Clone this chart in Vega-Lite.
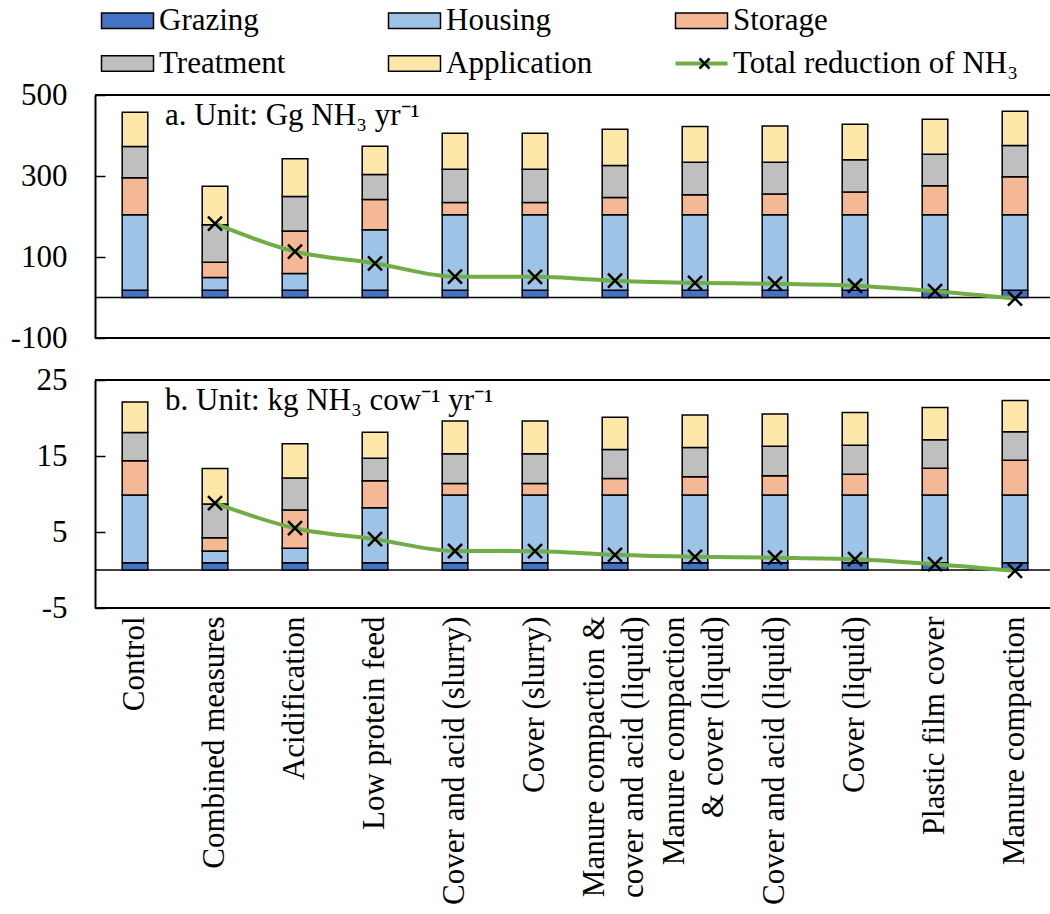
{
  "$schema": "https://vega.github.io/schema/vega-lite/v6.json",
  "padding": {"left": 10, "top": 5, "right": 0, "bottom": 0},
  "background": "white",
  "spacing": 11,
  "config": {"view": {"stroke": null}, "font": "Liberation Serif"},
  "datasets": {
    "bars": [
      {"p":"a","s":"Control","c":"Grazing","o":1,"v":18},
      {"p":"a","s":"Control","c":"Housing","o":2,"v":186.4},
      {"p":"a","s":"Control","c":"Storage","o":3,"v":91.2},
      {"p":"a","s":"Control","c":"Treatment","o":4,"v":77.1},
      {"p":"a","s":"Control","c":"Application","o":5,"v":84.6},
      {"p":"a","s":"Combined measures","c":"Grazing","o":1,"v":18},
      {"p":"a","s":"Combined measures","c":"Housing","o":2,"v":31.3},
      {"p":"a","s":"Combined measures","c":"Storage","o":3,"v":37.7},
      {"p":"a","s":"Combined measures","c":"Treatment","o":4,"v":92.8},
      {"p":"a","s":"Combined measures","c":"Application","o":5,"v":95.2},
      {"p":"a","s":"Acidification","c":"Grazing","o":1,"v":18},
      {"p":"a","s":"Acidification","c":"Housing","o":2,"v":41.1},
      {"p":"a","s":"Acidification","c":"Storage","o":3,"v":105.1},
      {"p":"a","s":"Acidification","c":"Treatment","o":4,"v":85.4},
      {"p":"a","s":"Acidification","c":"Application","o":5,"v":92.8},
      {"p":"a","s":"Low protein feed","c":"Grazing","o":1,"v":18},
      {"p":"a","s":"Low protein feed","c":"Housing","o":2,"v":149.5},
      {"p":"a","s":"Low protein feed","c":"Storage","o":3,"v":74.7},
      {"p":"a","s":"Low protein feed","c":"Treatment","o":4,"v":61.6},
      {"p":"a","s":"Low protein feed","c":"Application","o":5,"v":69.8},
      {"p":"a","s":"Cover and acid (slurry)","c":"Grazing","o":1,"v":18},
      {"p":"a","s":"Cover and acid (slurry)","c":"Housing","o":2,"v":186.4},
      {"p":"a","s":"Cover and acid (slurry)","c":"Storage","o":3,"v":30.4},
      {"p":"a","s":"Cover and acid (slurry)","c":"Treatment","o":4,"v":82.1},
      {"p":"a","s":"Cover and acid (slurry)","c":"Application","o":5,"v":88.7},
      {"p":"a","s":"Cover (slurry)","c":"Grazing","o":1,"v":18},
      {"p":"a","s":"Cover (slurry)","c":"Housing","o":2,"v":186.4},
      {"p":"a","s":"Cover (slurry)","c":"Storage","o":3,"v":30.4},
      {"p":"a","s":"Cover (slurry)","c":"Treatment","o":4,"v":82.1},
      {"p":"a","s":"Cover (slurry)","c":"Application","o":5,"v":88.7},
      {"p":"a","s":"Manure compaction & cover and acid (liquid)","c":"Grazing","o":1,"v":18},
      {"p":"a","s":"Manure compaction & cover and acid (liquid)","c":"Housing","o":2,"v":186.4},
      {"p":"a","s":"Manure compaction & cover and acid (liquid)","c":"Storage","o":3,"v":42.7},
      {"p":"a","s":"Manure compaction & cover and acid (liquid)","c":"Treatment","o":4,"v":78.8},
      {"p":"a","s":"Manure compaction & cover and acid (liquid)","c":"Application","o":5,"v":89.5},
      {"p":"a","s":"Manure compaction & cover (liquid)","c":"Grazing","o":1,"v":18},
      {"p":"a","s":"Manure compaction & cover (liquid)","c":"Housing","o":2,"v":186.4},
      {"p":"a","s":"Manure compaction & cover (liquid)","c":"Storage","o":3,"v":49.3},
      {"p":"a","s":"Manure compaction & cover (liquid)","c":"Treatment","o":4,"v":80.5},
      {"p":"a","s":"Manure compaction & cover (liquid)","c":"Application","o":5,"v":87.8},
      {"p":"a","s":"Cover and acid (liquid)","c":"Grazing","o":1,"v":18},
      {"p":"a","s":"Cover and acid (liquid)","c":"Housing","o":2,"v":186.4},
      {"p":"a","s":"Cover and acid (liquid)","c":"Storage","o":3,"v":50.9},
      {"p":"a","s":"Cover and acid (liquid)","c":"Treatment","o":4,"v":78.9},
      {"p":"a","s":"Cover and acid (liquid)","c":"Application","o":5,"v":89.4},
      {"p":"a","s":"Cover (liquid)","c":"Grazing","o":1,"v":18},
      {"p":"a","s":"Cover (liquid)","c":"Housing","o":2,"v":186.4},
      {"p":"a","s":"Cover (liquid)","c":"Storage","o":3,"v":55.8},
      {"p":"a","s":"Cover (liquid)","c":"Treatment","o":4,"v":79.8},
      {"p":"a","s":"Cover (liquid)","c":"Application","o":5,"v":87.8},
      {"p":"a","s":"Plastic film cover","c":"Grazing","o":1,"v":18},
      {"p":"a","s":"Plastic film cover","c":"Housing","o":2,"v":186.4},
      {"p":"a","s":"Plastic film cover","c":"Storage","o":3,"v":71.5},
      {"p":"a","s":"Plastic film cover","c":"Treatment","o":4,"v":78.0},
      {"p":"a","s":"Plastic film cover","c":"Application","o":5,"v":86.2},
      {"p":"a","s":"Manure compaction","c":"Grazing","o":1,"v":18},
      {"p":"a","s":"Manure compaction","c":"Housing","o":2,"v":186.4},
      {"p":"a","s":"Manure compaction","c":"Storage","o":3,"v":93.6},
      {"p":"a","s":"Manure compaction","c":"Treatment","o":4,"v":77.2},
      {"p":"a","s":"Manure compaction","c":"Application","o":5,"v":84.6},
      {"p":"b","s":"Control","c":"Grazing","o":1,"v":0.96},
      {"p":"b","s":"Control","c":"Housing","o":2,"v":8.90},
      {"p":"b","s":"Control","c":"Storage","o":3,"v":4.51},
      {"p":"b","s":"Control","c":"Treatment","o":4,"v":3.72},
      {"p":"b","s":"Control","c":"Application","o":5,"v":4.03},
      {"p":"b","s":"Combined measures","c":"Grazing","o":1,"v":0.96},
      {"p":"b","s":"Combined measures","c":"Housing","o":2,"v":1.54},
      {"p":"b","s":"Combined measures","c":"Storage","o":3,"v":1.75},
      {"p":"b","s":"Combined measures","c":"Treatment","o":4,"v":4.42},
      {"p":"b","s":"Combined measures","c":"Application","o":5,"v":4.69},
      {"p":"b","s":"Acidification","c":"Grazing","o":1,"v":0.96},
      {"p":"b","s":"Acidification","c":"Housing","o":2,"v":1.89},
      {"p":"b","s":"Acidification","c":"Storage","o":3,"v":5.03},
      {"p":"b","s":"Acidification","c":"Treatment","o":4,"v":4.21},
      {"p":"b","s":"Acidification","c":"Application","o":5,"v":4.51},
      {"p":"b","s":"Low protein feed","c":"Grazing","o":1,"v":0.96},
      {"p":"b","s":"Low protein feed","c":"Housing","o":2,"v":7.23},
      {"p":"b","s":"Low protein feed","c":"Storage","o":3,"v":3.55},
      {"p":"b","s":"Low protein feed","c":"Treatment","o":4,"v":2.98},
      {"p":"b","s":"Low protein feed","c":"Application","o":5,"v":3.41},
      {"p":"b","s":"Cover and acid (slurry)","c":"Grazing","o":1,"v":0.96},
      {"p":"b","s":"Cover and acid (slurry)","c":"Housing","o":2,"v":8.90},
      {"p":"b","s":"Cover and acid (slurry)","c":"Storage","o":3,"v":1.53},
      {"p":"b","s":"Cover and acid (slurry)","c":"Treatment","o":4,"v":3.90},
      {"p":"b","s":"Cover and acid (slurry)","c":"Application","o":5,"v":4.33},
      {"p":"b","s":"Cover (slurry)","c":"Grazing","o":1,"v":0.96},
      {"p":"b","s":"Cover (slurry)","c":"Housing","o":2,"v":8.90},
      {"p":"b","s":"Cover (slurry)","c":"Storage","o":3,"v":1.53},
      {"p":"b","s":"Cover (slurry)","c":"Treatment","o":4,"v":3.90},
      {"p":"b","s":"Cover (slurry)","c":"Application","o":5,"v":4.33},
      {"p":"b","s":"Manure compaction & cover and acid (liquid)","c":"Grazing","o":1,"v":0.96},
      {"p":"b","s":"Manure compaction & cover and acid (liquid)","c":"Housing","o":2,"v":8.90},
      {"p":"b","s":"Manure compaction & cover and acid (liquid)","c":"Storage","o":3,"v":2.19},
      {"p":"b","s":"Manure compaction & cover and acid (liquid)","c":"Treatment","o":4,"v":3.81},
      {"p":"b","s":"Manure compaction & cover and acid (liquid)","c":"Application","o":5,"v":4.25},
      {"p":"b","s":"Manure compaction & cover (liquid)","c":"Grazing","o":1,"v":0.96},
      {"p":"b","s":"Manure compaction & cover (liquid)","c":"Housing","o":2,"v":8.90},
      {"p":"b","s":"Manure compaction & cover (liquid)","c":"Storage","o":3,"v":2.40},
      {"p":"b","s":"Manure compaction & cover (liquid)","c":"Treatment","o":4,"v":3.86},
      {"p":"b","s":"Manure compaction & cover (liquid)","c":"Application","o":5,"v":4.29},
      {"p":"b","s":"Cover and acid (liquid)","c":"Grazing","o":1,"v":0.96},
      {"p":"b","s":"Cover and acid (liquid)","c":"Housing","o":2,"v":8.90},
      {"p":"b","s":"Cover and acid (liquid)","c":"Storage","o":3,"v":2.54},
      {"p":"b","s":"Cover and acid (liquid)","c":"Treatment","o":4,"v":3.89},
      {"p":"b","s":"Cover and acid (liquid)","c":"Application","o":5,"v":4.25},
      {"p":"b","s":"Cover (liquid)","c":"Grazing","o":1,"v":0.96},
      {"p":"b","s":"Cover (liquid)","c":"Housing","o":2,"v":8.90},
      {"p":"b","s":"Cover (liquid)","c":"Storage","o":3,"v":2.75},
      {"p":"b","s":"Cover (liquid)","c":"Treatment","o":4,"v":3.82},
      {"p":"b","s":"Cover (liquid)","c":"Application","o":5,"v":4.29},
      {"p":"b","s":"Plastic film cover","c":"Grazing","o":1,"v":0.96},
      {"p":"b","s":"Plastic film cover","c":"Housing","o":2,"v":8.90},
      {"p":"b","s":"Plastic film cover","c":"Storage","o":3,"v":3.54},
      {"p":"b","s":"Plastic film cover","c":"Treatment","o":4,"v":3.73},
      {"p":"b","s":"Plastic film cover","c":"Application","o":5,"v":4.25},
      {"p":"b","s":"Manure compaction","c":"Grazing","o":1,"v":0.96},
      {"p":"b","s":"Manure compaction","c":"Housing","o":2,"v":8.90},
      {"p":"b","s":"Manure compaction","c":"Storage","o":3,"v":4.59},
      {"p":"b","s":"Manure compaction","c":"Treatment","o":4,"v":3.73},
      {"p":"b","s":"Manure compaction","c":"Application","o":5,"v":4.12}
    ],
    "red": [
      {"p":"a","s":"Combined measures","r":182.3},
      {"p":"a","s":"Acidification","r":113.5},
      {"p":"a","s":"Low protein feed","r":84.5},
      {"p":"a","s":"Cover and acid (slurry)","r":51.5},
      {"p":"a","s":"Cover (slurry)","r":51.0},
      {"p":"a","s":"Manure compaction & cover and acid (liquid)","r":41.5},
      {"p":"a","s":"Manure compaction & cover (liquid)","r":36.0},
      {"p":"a","s":"Cover and acid (liquid)","r":34.0},
      {"p":"a","s":"Cover (liquid)","r":29.0},
      {"p":"a","s":"Plastic film cover","r":15.5},
      {"p":"a","s":"Manure compaction","r":-2.5},
      {"p":"b","s":"Combined measures","r":8.8},
      {"p":"b","s":"Acidification","r":5.5},
      {"p":"b","s":"Low protein feed","r":4.05},
      {"p":"b","s":"Cover and acid (slurry)","r":2.5},
      {"p":"b","s":"Cover (slurry)","r":2.48},
      {"p":"b","s":"Manure compaction & cover and acid (liquid)","r":2.0},
      {"p":"b","s":"Manure compaction & cover (liquid)","r":1.73},
      {"p":"b","s":"Cover and acid (liquid)","r":1.62},
      {"p":"b","s":"Cover (liquid)","r":1.42},
      {"p":"b","s":"Plastic film cover","r":0.77},
      {"p":"b","s":"Manure compaction","r":-0.1}
    ]
  },
  "vconcat": [
    {
      "width": 955,
      "height": 243,
      "layer": [
        {"data": {"values": [{}]}, "mark": {"type": "rule", "color": "black", "strokeWidth": 2}, "encoding": {"y": {"datum": 500, "type": "quantitative", "title": null}}},
        {"data": {"values": [{}]}, "mark": {"type": "rule", "color": "black", "strokeWidth": 2}, "encoding": {"y": {"datum": -100, "type": "quantitative", "title": null}}},
        {"data": {"values": [{}]}, "mark": {"type": "rule", "color": "black", "strokeWidth": 1.5}, "encoding": {"y": {"datum": 0, "type": "quantitative", "title": null}}},
        {
          "data": {"name": "bars"},
          "transform": [{"filter": "datum.p == 'a'"}],
          "mark": {"type": "bar", "stroke": "black", "strokeWidth": 1.5},
          "encoding": {
            "x": {"field": "s", "type": "nominal", "title": null, "scale": {"domain": ["Control","Combined measures","Acidification","Low protein feed","Cover and acid (slurry)","Cover (slurry)","Manure compaction & cover and acid (liquid)","Manure compaction & cover (liquid)","Cover and acid (liquid)","Cover (liquid)","Plastic film cover","Manure compaction"], "paddingInner": 0.68, "paddingOuter": 0.30875, "align": 0.5506}, "axis": null},
            "y": {"field": "v", "type": "quantitative", "stack": "zero", "title": null, "scale": {"domain": [-100, 500], "nice": false, "zero": false},
                  "axis": {"values": [-100, 100, 300, 500], "labelExpr": "datum.value < 0 ? '-' + abs(datum.value) : datum.label", "grid": false, "domain": true, "domainColor": "black", "domainWidth": 2, "ticks": true, "tickSize": -10, "tickColor": "black", "tickWidth": 1.5, "labelFont": "Liberation Serif", "labelFontSize": 31, "labelColor": "black", "labelPadding": 38, "title": null}},
            "fill": {"field": "c", "type": "nominal", "scale": {"domain": ["Grazing","Housing","Storage","Treatment","Application"], "range": ["#4472C4","#9DC3E6","#F4B994","#BFBFBF","#FCE7A8"]},
                     "legend": {"title": null, "orient": "none", "legendX": -4, "legendY": -90, "direction": "horizontal", "columns": 3, "gridAlign": "all", "columnPadding": 72, "rowPadding": 11, "padding": 0, "symbolType": "M-1,-1.56H9.4V1.56H-1Z", "symbolSize": 100, "symbolStrokeColor": "black", "symbolStrokeWidth": 1.5, "labelFont": "Liberation Serif", "labelFontSize": 31, "labelColor": "black", "labelOffset": 37, "labelLimit": 0}},
            "order": {"field": "o", "type": "quantitative"}
          }
        },
        {
          "data": {"name": "red"},
          "transform": [{"filter": "datum.p == 'a'"}],
          "mark": {"type": "line", "strokeWidth": 4, "interpolate": "monotone"},
          "encoding": {
            "x": {"field": "s", "type": "nominal", "title": null, "scale": {"domain": ["Control","Combined measures","Acidification","Low protein feed","Cover and acid (slurry)","Cover (slurry)","Manure compaction & cover and acid (liquid)","Manure compaction & cover (liquid)","Cover and acid (liquid)","Cover (liquid)","Plastic film cover","Manure compaction"], "paddingInner": 0.68, "paddingOuter": 0.30875, "align": 0.5506}, "axis": null},
            "y": {"field": "r", "type": "quantitative", "title": null},
            "stroke": {"datum": "Total reduction of NH₃", "scale": {"range": ["#70AD47"]},
                       "legend": {"title": null, "orient": "none", "legendX": 570, "legendY": -47, "padding": 0, "symbolType": "M-1,0H9.4", "symbolSize": 100, "symbolStrokeWidth": 4, "labelFont": "Liberation Serif", "labelFontSize": 31, "labelColor": "black", "labelOffset": 37, "labelLimit": 0}}
          }
        },
        {
          "data": {"name": "red"},
          "transform": [{"filter": "datum.p == 'a'"}],
          "mark": {"type": "point", "filled": false, "stroke": "black", "strokeWidth": 2.5, "size": 196, "opacity": 1},
          "encoding": {
            "x": {"field": "s", "type": "nominal", "title": null, "scale": {"domain": ["Control","Combined measures","Acidification","Low protein feed","Cover and acid (slurry)","Cover (slurry)","Manure compaction & cover and acid (liquid)","Manure compaction & cover (liquid)","Cover and acid (liquid)","Cover (liquid)","Plastic film cover","Manure compaction"], "paddingInner": 0.68, "paddingOuter": 0.30875, "align": 0.5506}, "axis": null},
            "y": {"field": "r", "type": "quantitative", "title": null},
            "shape": {"datum": "x", "scale": {"range": ["M-1,-1L1,1M-1,1L1,-1"]},
                      "legend": {"title": null, "orient": "none", "legendX": 594, "legendY": -47, "padding": 0, "symbolType": "M2.8,-1.4L5.6,1.4M2.8,1.4L5.6,-1.4", "symbolSize": 100, "symbolStrokeColor": "black", "symbolStrokeWidth": 2.5, "symbolFillColor": "transparent", "labelExpr": "''", "labelFontSize": 31}}
          }
        },
        {"data": {"values": [{}]}, "mark": {"type": "text", "align": "left", "baseline": "alphabetic", "dx": 30, "font": "Liberation Serif", "fontSize": 31, "color": "black", "text": "a. Unit: Gg NH₃ yr⁻¹"},
         "encoding": {"x": {"datum": "Control", "type": "nominal"}, "y": {"datum": 426, "type": "quantitative"}}}
      ]
    },
    {
      "width": 955,
      "height": 228,
      "layer": [
        {"data": {"values": [{}]}, "mark": {"type": "rule", "color": "black", "strokeWidth": 2}, "encoding": {"y": {"datum": 25, "type": "quantitative", "title": null}}},
        {"data": {"values": [{}]}, "mark": {"type": "rule", "color": "black", "strokeWidth": 2}, "encoding": {"y": {"datum": -5, "type": "quantitative", "title": null}}},
        {"data": {"values": [{}]}, "mark": {"type": "rule", "color": "black", "strokeWidth": 1.5}, "encoding": {"y": {"datum": 0, "type": "quantitative", "title": null}}},
        {
          "data": {"name": "bars"},
          "transform": [{"filter": "datum.p == 'b'"}],
          "mark": {"type": "bar", "stroke": "black", "strokeWidth": 1.5},
          "encoding": {
            "x": {"field": "s", "type": "nominal", "title": null, "scale": {"domain": ["Control","Combined measures","Acidification","Low protein feed","Cover and acid (slurry)","Cover (slurry)","Manure compaction & cover and acid (liquid)","Manure compaction & cover (liquid)","Cover and acid (liquid)","Cover (liquid)","Plastic film cover","Manure compaction"], "paddingInner": 0.68, "paddingOuter": 0.30875, "align": 0.5506},
                  "axis": {"title": null, "orient": "bottom", "domain": false, "ticks": false, "labelAngle": -90, "labelFont": "Liberation Serif", "labelFontSize": 31, "labelColor": "black", "labelPadding": 8, "labelLimit": 0, "labelOverlap": false, "labelLineHeight": 39, "labelOffset": {"condition": {"test": "indexof(datum.value, '&') >= 0", "value": -20}, "value": 0}, "labelExpr": "datum.value == 'Manure compaction & cover and acid (liquid)' ? ['Manure compaction &', 'cover and acid (liquid)'] : datum.value == 'Manure compaction & cover (liquid)' ? ['Manure compaction', '& cover (liquid)'] : datum.label"}},
            "y": {"field": "v", "type": "quantitative", "stack": "zero", "title": null, "scale": {"domain": [-5, 25], "nice": false, "zero": false},
                  "axis": {"values": [-5, 5, 15, 25], "labelExpr": "datum.value < 0 ? '-' + abs(datum.value) : datum.label", "grid": false, "domain": true, "domainColor": "black", "domainWidth": 2, "ticks": true, "tickSize": -10, "tickColor": "black", "tickWidth": 1.5, "labelFont": "Liberation Serif", "labelFontSize": 31, "labelColor": "black", "labelPadding": 38, "title": null}},
            "fill": {"field": "c", "type": "nominal", "scale": {"domain": ["Grazing","Housing","Storage","Treatment","Application"], "range": ["#4472C4","#9DC3E6","#F4B994","#BFBFBF","#FCE7A8"]}},
            "order": {"field": "o", "type": "quantitative"}
          }
        },
        {
          "data": {"name": "red"},
          "transform": [{"filter": "datum.p == 'b'"}],
          "mark": {"type": "line", "strokeWidth": 4, "interpolate": "monotone"},
          "encoding": {
            "x": {"field": "s", "type": "nominal", "title": null, "scale": {"domain": ["Control","Combined measures","Acidification","Low protein feed","Cover and acid (slurry)","Cover (slurry)","Manure compaction & cover and acid (liquid)","Manure compaction & cover (liquid)","Cover and acid (liquid)","Cover (liquid)","Plastic film cover","Manure compaction"], "paddingInner": 0.68, "paddingOuter": 0.30875, "align": 0.5506},
                  "axis": {"title": null, "orient": "bottom", "domain": false, "ticks": false, "labelAngle": -90, "labelFont": "Liberation Serif", "labelFontSize": 31, "labelColor": "black", "labelPadding": 8, "labelLimit": 0, "labelOverlap": false, "labelLineHeight": 39, "labelOffset": {"condition": {"test": "indexof(datum.value, '&') >= 0", "value": -20}, "value": 0}, "labelExpr": "datum.value == 'Manure compaction & cover and acid (liquid)' ? ['Manure compaction &', 'cover and acid (liquid)'] : datum.value == 'Manure compaction & cover (liquid)' ? ['Manure compaction', '& cover (liquid)'] : datum.label"}},
            "y": {"field": "r", "type": "quantitative", "title": null},
            "stroke": {"datum": "Total reduction of NH₃", "scale": {"range": ["#70AD47"]}}
          }
        },
        {
          "data": {"name": "red"},
          "transform": [{"filter": "datum.p == 'b'"}],
          "mark": {"type": "point", "filled": false, "stroke": "black", "strokeWidth": 2.5, "size": 196, "opacity": 1},
          "encoding": {
            "x": {"field": "s", "type": "nominal", "title": null, "scale": {"domain": ["Control","Combined measures","Acidification","Low protein feed","Cover and acid (slurry)","Cover (slurry)","Manure compaction & cover and acid (liquid)","Manure compaction & cover (liquid)","Cover and acid (liquid)","Cover (liquid)","Plastic film cover","Manure compaction"], "paddingInner": 0.68, "paddingOuter": 0.30875, "align": 0.5506},
                  "axis": {"title": null, "orient": "bottom", "domain": false, "ticks": false, "labelAngle": -90, "labelFont": "Liberation Serif", "labelFontSize": 31, "labelColor": "black", "labelPadding": 8, "labelLimit": 0, "labelOverlap": false, "labelLineHeight": 39, "labelOffset": {"condition": {"test": "indexof(datum.value, '&') >= 0", "value": -20}, "value": 0}, "labelExpr": "datum.value == 'Manure compaction & cover and acid (liquid)' ? ['Manure compaction &', 'cover and acid (liquid)'] : datum.value == 'Manure compaction & cover (liquid)' ? ['Manure compaction', '& cover (liquid)'] : datum.label"}},
            "y": {"field": "r", "type": "quantitative", "title": null},
            "shape": {"datum": "x", "scale": {"range": ["M-1,-1L1,1M-1,1L1,-1"]}}
          }
        },
        {"data": {"values": [{}]}, "mark": {"type": "text", "align": "left", "baseline": "alphabetic", "dx": 30, "font": "Liberation Serif", "fontSize": 31, "color": "black", "text": "b. Unit: kg NH₃ cow⁻¹ yr⁻¹"},
         "encoding": {"x": {"datum": "Control", "type": "nominal"}, "y": {"datum": 21.05, "type": "quantitative"}}}
      ]
    }
  ]
}
